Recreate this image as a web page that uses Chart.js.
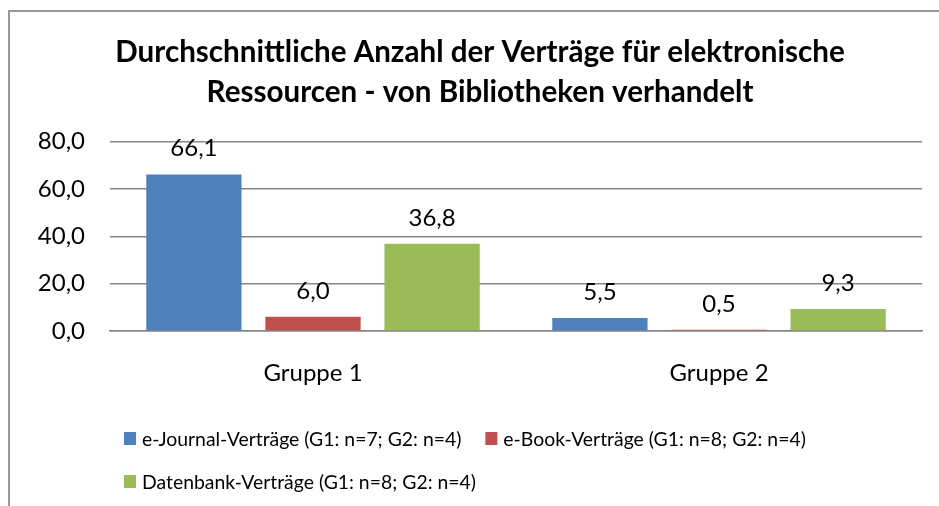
<!DOCTYPE html>
<html>
<head>
<meta charset="utf-8">
<script src="https://cdn.jsdelivr.net/npm/chart.js@4.4.1/dist/chart.umd.min.js"></script>
<style>
  html, body { margin: 0; padding: 0; background: #fff; }
  #wrap { width: 939px; height: 506px; position: relative; }
</style>
</head>
<body>
<div id="wrap"><canvas id="c" width="939" height="506"></canvas></div>
<script>
const categories = ["Gruppe 1", "Gruppe 2"];
const seriesNames = [
  "e-Journal-Verträge (G1: n=7; G2: n=4)",
  "e-Book-Verträge (G1: n=8; G2: n=4)",
  "Datenbank-Verträge (G1: n=8; G2: n=4)"
];
const eJournal = [66.1, 5.5];
const eBook = [6.0, 0.5];
const datenbank = [36.8, 9.3];
const yTicks = [0, 20, 40, 60, 80];
const titleLines = [
  "Durchschnittliche Anzahl der Verträge für elektronische",
  "Ressourcen - von Bibliotheken verhandelt"
];
const colors = ["#4F81BD", "#C0504D", "#9BBB59"];

const FONT = "Lato, 'Noto Sans', sans-serif";
const fmt = v => v.toFixed(1).replace('.', ',');

const frame = {
  id: 'frame',
  beforeDraw(chart) {
    const ctx = chart.ctx;
    ctx.save();
    ctx.fillStyle = '#fff';
    ctx.fillRect(0, 0, chart.width, chart.height);
    ctx.strokeStyle = '#999';
    ctx.lineWidth = 2;
    ctx.beginPath();
    ctx.moveTo(9, 506);
    ctx.lineTo(9, 11);
    ctx.lineTo(939, 11);
    ctx.stroke();
    ctx.restore();
  }
};

const valueLabels = {
  id: 'valueLabels',
  afterDatasetsDraw(chart) {
    const ctx = chart.ctx;
    ctx.save();
    ctx.font = "24px " + FONT;
    ctx.fillStyle = '#000';
    ctx.textAlign = 'center';
    ctx.textBaseline = 'alphabetic';
    chart.data.datasets.forEach((ds, i) => {
      chart.getDatasetMeta(i).data.forEach((bar, j) => {
        ctx.fillText(fmt(ds.data[j]), bar.x, bar.y - 18);
      });
    });
    ctx.restore();
  }
};

const customLegend = {
  id: 'customLegend',
  afterDraw(chart) {
    const ctx = chart.ctx;
    ctx.save();
    ctx.font = "19.4px " + FONT;
    ctx.textBaseline = 'alphabetic';
    ctx.textAlign = 'left';
    const rows = [[0, 1], [2]];
    const rowY = [446, 489];
    rows.forEach((row, r) => {
      let x = 124;
      row.forEach(i => {
        const ds = chart.data.datasets[i];
        ctx.fillStyle = ds.backgroundColor;
        ctx.fillRect(x, rowY[r] - 14, 12, 13);
        ctx.fillStyle = '#000';
        ctx.fillText(ds.label, x + 18, rowY[r]);
        x += 18 + ctx.measureText(ds.label).width + 24;
      });
    });
    ctx.restore();
  }
};

new Chart(document.getElementById('c'), {
  type: 'bar',
  data: {
    labels: categories,
    datasets: [
      { label: seriesNames[0], data: eJournal, backgroundColor: colors[0] },
      { label: seriesNames[1], data: eBook, backgroundColor: colors[1] },
      { label: seriesNames[2], data: datenbank, backgroundColor: colors[2] }
    ]
  },
  options: {
    responsive: false,
    animation: false,
    devicePixelRatio: 1,
    layout: { padding: { left: 38, right: 17, top: 0, bottom: 0 } },
    datasets: { bar: { categoryPercentage: 0.88, barPercentage: 0.8 } },
    plugins: {
      legend: { display: false },
      tooltip: { enabled: false },
      title: {
        display: true,
        text: titleLines,
        color: '#000',
        font: { family: FONT, size: 29.6, weight: 'bold', lineHeight: 1.36 },
        padding: { top: 32, bottom: 29 }
      }
    },
    scales: {
      x: {
        grid: { display: false, drawTicks: false },
        border: { display: true, color: '#868686', width: 1.5 },
        ticks: { color: '#000', font: { family: FONT, size: 24 }, padding: 28 },
        afterFit(scale) { scale.height = 175; }
      },
      y: {
        min: 0, max: 80,
        afterBuildTicks(scale) { scale.ticks = yTicks.map(v => ({ value: v })); },
        grid: { color: '#868686', lineWidth: 1.5, drawTicks: false },
        border: { display: false },
        ticks: { color: '#000', font: { family: FONT, size: 24 }, padding: 25, callback: v => fmt(v) },
        afterFit(scale) { scale.width = 72; }
      }
    }
  },
  plugins: [frame, valueLabels, customLegend]
});
</script>
</body>
</html>
